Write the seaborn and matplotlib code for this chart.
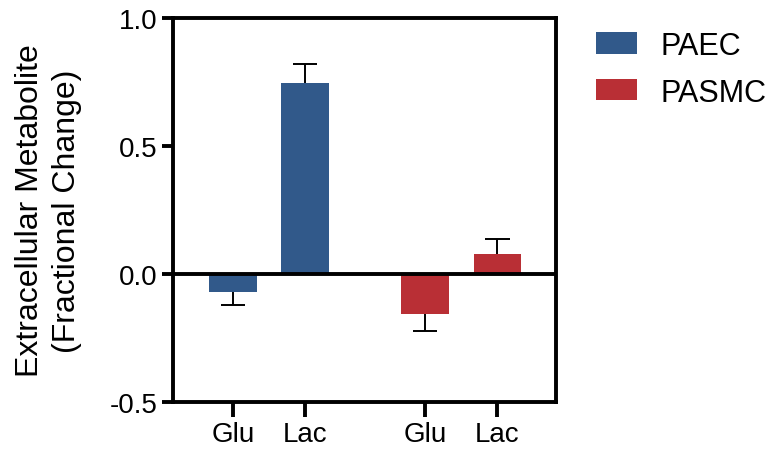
import matplotlib
matplotlib.use("Agg")
import matplotlib.pyplot as plt
import seaborn as sns
import pandas as pd
from matplotlib.patches import Patch

# Data
cell_types = ["PAEC", "PAEC", "PASMC", "PASMC"]
metabolites = ["Glu", "Lac", "Glu", "Lac"]
positions = [0.0, 1.0, 2.67, 3.67]
means = [-0.071, 0.747, -0.155, 0.078]
errors = [0.052, 0.075, 0.069, 0.060]
palette = {"PAEC": "#31598A", "PASMC": "#B92F35"}

df = pd.DataFrame({"pos": positions, "value": means, "cell": cell_types,
                   "metabolite": metabolites, "err": errors})

sns.set_style("white")
plt.rcParams["font.family"] = ["Liberation Sans", "DejaVu Sans"]
plt.rcParams["text.color"] = "black"
plt.rcParams["axes.labelcolor"] = "black"
plt.rcParams["xtick.color"] = "black"
plt.rcParams["ytick.color"] = "black"

fig = plt.figure(figsize=(7.77, 4.52), dpi=100)
ax = fig.add_axes([0.2223, 0.1084, 0.4933, 0.8496])

sns.barplot(data=df, x="pos", y="value", hue="cell", palette=palette,
            native_scale=True, dodge=False, width=0.66, errorbar=None,
            saturation=1, legend=False, ax=ax, edgecolor="none", zorder=2)

# One-sided error bars pointing away from zero, capped at the far end only
cap_half = 0.17
for _, r in df.iterrows():
    sign = 1 if r["value"] >= 0 else -1
    end = r["value"] + sign * r["err"]
    ax.plot([r["pos"], r["pos"]], [r["value"], end], color="black", lw=1.4,
            zorder=3, solid_capstyle="butt")
    ax.plot([r["pos"] - cap_half, r["pos"] + cap_half], [end, end],
            color="black", lw=1.4, zorder=3, solid_capstyle="butt")

ax.axhline(0, color="black", lw=2.8, zorder=4)

ax.set_xlim(-0.837, 4.486)
ax.set_ylim(-0.5, 1.0)
ax.set_yticks([-0.5, 0.0, 0.5, 1.0])
ax.set_yticklabels(["-0.5", "0.0", "0.5", "1.0"])
ax.set_xticks(positions)
ax.set_xticklabels(metabolites)
ax.set_xlabel("")
ax.set_ylabel("Extracellular Metabolite\n(Fractional Change)", fontsize=23,
              labelpad=20, linespacing=1.3)

for sp in ax.spines.values():
    sp.set_visible(True)
    sp.set_linewidth(2.8)
    sp.set_color("black")

ax.tick_params(axis="y", which="major", direction="out", length=8, width=2.8,
               labelsize=20, pad=3, left=True)
ax.tick_params(axis="x", which="major", direction="out", length=11, width=2.8,
               labelsize=20, pad=3, bottom=True)

handles = [Patch(facecolor=palette[c], edgecolor="none") for c in ["PAEC", "PASMC"]]
fig.legend(handles, ["PAEC", "PASMC"], loc="upper left",
           bbox_to_anchor=(0.755, 0.95), frameon=False, fontsize=22,
           handlelength=1.34, handleheight=0.69, handletextpad=0.78,
           labelspacing=0.55, borderaxespad=0, borderpad=0.3)

fig.savefig("out.png", dpi=100)
